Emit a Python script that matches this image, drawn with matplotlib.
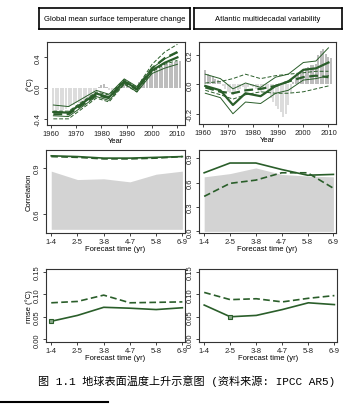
import numpy as np
import matplotlib
matplotlib.use('Agg')
import matplotlib.pyplot as plt

plt.rcParams['font.family'] = ['Liberation Sans', 'DejaVu Sans']

# ---- data ----
bar_years = np.arange(1961, 2012)
gmst_obs = [-0.28, -0.30, -0.28, -0.30, -0.29, -0.27, -0.25,
            -0.22, -0.22, -0.20, -0.20, -0.18, -0.17, -0.16, -0.15,
            -0.12, -0.08, -0.03, 0.02, 0.04, 0.05,
            0.02, -0.02, -0.04, -0.06, -0.05, 0.02, 0.06, 0.08, 0.07,
            0.03, 0.0, -0.03, -0.02,
            0.08, 0.12, 0.14, 0.16, 0.18, 0.20, 0.22, 0.24, 0.26, 0.28,
            0.30, 0.31, 0.32, 0.33, 0.34, 0.35, 0.35]
amv_obs = [0.10, 0.07, 0.06, 0.06, 0.04, 0.03, 0.02,
           -0.01, -0.03, -0.05, -0.06, -0.07, -0.05, -0.04, -0.03,
           -0.02, -0.03, -0.02, -0.01, -0.02, -0.03, -0.04, -0.05, -0.04,
           -0.03, -0.06, -0.09, -0.12, -0.15, -0.17,
           -0.19, -0.22, -0.20, -0.14, -0.06,
           0.02, 0.05, 0.07, 0.09, 0.10,
           0.11, 0.12, 0.13, 0.13, 0.14,
           0.20, 0.23, 0.24, 0.21, 0.19, 0.18]

yrs_g = [1961, 1967, 1978, 1983, 1989, 1994, 2000, 2005, 2010]
g_init = [-0.31, -0.32, -0.07, -0.12, 0.09, -0.01, 0.23, 0.33, 0.40]
g_init_hi = [-0.22, -0.24, -0.03, -0.08, 0.12, 0.02, 0.26, 0.38, 0.46]
g_init_lo = [-0.36, -0.37, -0.11, -0.16, 0.06, -0.05, 0.19, 0.26, 0.31]
g_unin = [-0.34, -0.34, -0.09, -0.13, 0.08, -0.02, 0.26, 0.39, 0.47]
g_unin_hi = [-0.30, -0.30, -0.05, -0.09, 0.11, 0.01, 0.31, 0.47, 0.57]
g_unin_lo = [-0.40, -0.40, -0.13, -0.18, 0.05, -0.05, 0.21, 0.31, 0.36]

yrs_a = [1961, 1967, 1972, 1977, 1983, 1989, 1994, 2000, 2005, 2010]
a_init = [-0.01, -0.04, -0.14, -0.06, -0.08, -0.01, 0.02, 0.10, 0.11, 0.15]
a_init_hi = [0.07, 0.04, -0.03, 0.01, -0.02, 0.05, 0.07, 0.15, 0.16, 0.25]
a_init_lo = [-0.06, -0.09, -0.20, -0.12, -0.13, -0.06, -0.04, 0.03, 0.04, 0.06]
a_unin = [-0.02, -0.05, -0.06, -0.04, -0.03, -0.01, 0.02, 0.05, 0.06, 0.05]
a_unin_hi = [0.01, 0.02, 0.04, 0.07, 0.04, 0.06, 0.07, 0.08, 0.09, 0.09]
a_unin_lo = [-0.04, -0.07, -0.10, -0.07, -0.05, -0.06, -0.06, -0.05, -0.03, -0.01]

lead = ['1-4', '2-5', '3-8', '4-7', '5-8', '6-9']
corr_g_pers = [0.88, 0.825, 0.83, 0.81, 0.86, 0.88]
corr_g_init = [0.98, 0.975, 0.965, 0.965, 0.97, 0.975]
corr_g_unin = [0.975, 0.97, 0.96, 0.96, 0.965, 0.975]
corr_a_pers = [0.67, 0.71, 0.78, 0.70, 0.68, 0.67]
corr_a_init = [0.72, 0.84, 0.84, 0.76, 0.69, 0.70]
corr_a_unin = [0.43, 0.59, 0.63, 0.72, 0.72, 0.53]
rmse_g_init = [0.040, 0.053, 0.071, 0.069, 0.066, 0.070]
rmse_g_unin = [0.081, 0.084, 0.098, 0.081, 0.082, 0.083]
rmse_a_init = [0.076, 0.050, 0.053, 0.066, 0.081, 0.077]
rmse_a_unin = [0.104, 0.088, 0.090, 0.083, 0.091, 0.097]

W, H = 364, 406
green = '#2a5e2a'
fs = 5.5

fig = plt.figure(figsize=(W / 100, H / 100), dpi=100)


def box(x0, y0, x1, y1):
    return fig.add_axes([x0 / W, 1 - y1 / H, (x1 - x0) / W, (y1 - y0) / H])


def style(ax):
    for s in ax.spines.values():
        s.set_linewidth(0.8)
        s.set_color('#333333')
    ax.tick_params(labelsize=fs, length=2, width=0.6, pad=1.5, colors='#222222')
    for t in ax.get_yticklabels():
        t.set_rotation(90)
        t.set_va('center')


# title boxes
for (x0, x1, txt) in [(39, 190, 'Global mean surface temperature change'),
                      (194, 342, 'Atlantic multidecadal variability')]:
    tb = box(x0, 9, x1, 30)
    tb.set_xticks([])
    tb.set_yticks([])
    for s in tb.spines.values():
        s.set_linewidth(1.2)
    tb.text(0.5, 0.5, txt, ha='center', va='center', fontsize=fs, transform=tb.transAxes)


def timeseries(ax, obs, yrs, init, ihi, ilo, unin, uhi, ulo):
    obs = np.array(obs)
    cols = np.where(obs >= 0, '#bdbdbd', '#dcdcdc')
    ax.bar(bar_years, obs, width=0.8, color=cols, edgecolor='none', zorder=1)
    ax.plot(yrs, uhi, '--', color=green, lw=0.7, dashes=(4, 2))
    ax.plot(yrs, ulo, '--', color=green, lw=0.7, dashes=(4, 2))
    ax.plot(yrs, ihi, '-', color=green, lw=0.7)
    ax.plot(yrs, ilo, '-', color=green, lw=0.7)
    ax.plot(yrs, unin, '--', color=green, lw=1.6, dashes=(4, 2))
    ax.plot(yrs, init, '-', color=green, lw=1.6)
    ax.set_xlim(1958.5, 2013)
    ax.set_xticks([1960, 1970, 1980, 1990, 2000, 2010])
    ax.set_xlabel('Year', fontsize=fs, labelpad=0)


ax1 = box(47, 43, 185, 126)
timeseries(ax1, gmst_obs, yrs_g, g_init, g_init_hi, g_init_lo, g_unin, g_unin_hi, g_unin_lo)
ax1.set_ylim(-0.48, 0.6)
ax1.set_yticks([-0.4, 0.0, 0.4])
ax1.set_yticklabels(['-0.4', '0.0', '0.4'])
ax1.set_ylabel('(°C)', fontsize=fs, labelpad=1)
style(ax1)

ax2 = box(199, 43, 336, 125)
timeseries(ax2, amv_obs, yrs_a, a_init, a_init_hi, a_init_lo, a_unin, a_unin_hi, a_unin_lo)
ax2.set_ylim(-0.27, 0.29)
ax2.set_yticks([-0.2, 0.0, 0.2])
ax2.set_yticklabels(['-0.2', '0.0', '0.2'])
style(ax2)

xs = np.arange(len(lead))


def skill(ax, init, unin, pers=None, base=0.0, mark=None):
    if pers is not None:
        ax.fill_between(xs, base, pers, color='#d3d3d3', lw=0, zorder=1)
    ax.plot(xs, unin, '--', color=green, lw=1.2, dashes=(4, 2))
    ax.plot(xs, init, '-', color=green, lw=1.2)
    if mark is not None:
        i = int(np.argmin(init))
        ax.plot(xs[i], init[i], 's', ms=3.5, mfc='#8aa88a', mec=green, mew=0.8)
    ax.set_xlim(-0.2, 5.1)
    ax.set_xticks(xs)
    ax.set_xticklabels(lead)
    ax.set_xlabel('Forecast time (yr)', fontsize=fs, labelpad=0)


ax3 = box(46, 151, 185, 234)
skill(ax3, corr_g_init, corr_g_unin, corr_g_pers, base=0.5)
ax3.set_ylim(0.476, 1.018)
ax3.set_yticks([0.6, 0.9])
ax3.set_ylabel('Correlation', fontsize=fs, labelpad=1)
style(ax3)

ax4 = box(199, 151, 336, 234)
skill(ax4, corr_a_init, corr_a_unin, corr_a_pers, base=0.0)
ax4.set_ylim(-0.02, 1.0)
ax4.set_yticks([0.0, 0.3, 0.6, 0.9])
style(ax4)

ax5 = box(46, 270, 185, 343)
skill(ax5, rmse_g_init, rmse_g_unin, mark=True)
ax5.set_ylim(-0.006, 0.156)
ax5.set_yticks([0.0, 0.05, 0.10, 0.15])
ax5.set_yticklabels(['0.00', '0.05', '0.10', '0.15'])
ax5.set_ylabel('rmse (°C)', fontsize=fs, labelpad=1)
style(ax5)

ax6 = box(199, 270, 337, 343)
skill(ax6, rmse_a_init, rmse_a_unin, mark=True)
ax6.set_ylim(-0.006, 0.156)
ax6.set_yticks([0.0, 0.05, 0.10, 0.15])
ax6.set_yticklabels(['0.00', '0.05', '0.10', '0.15'])
style(ax6)

# caption and rule line
fig.text(38 / W, 1 - 381 / H, '图 1.1 地球表面温度上升示意图 (资料来源: IPCC AR5)',
         fontsize=8, ha='left', va='center',
         family=['Liberation Mono', 'Noto Sans CJK SC'])
fig.add_artist(plt.Line2D([0, 108 / W], [1 - 403 / H, 1 - 403 / H],
                          color='black', lw=1.5, transform=fig.transFigure))

fig.savefig('out.png', dpi=100)
